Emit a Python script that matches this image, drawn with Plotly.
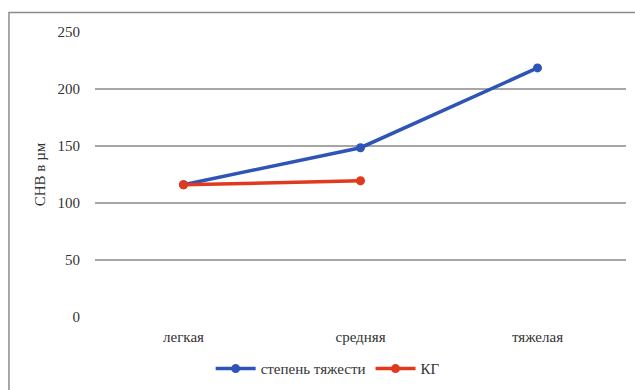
import plotly.graph_objects as go

categories = ["легкая", "средняя", "тяжелая"]
severity = [116, 148.5, 218.5]
control = [116, 119.5, None]
series_names = ["степень тяжести", "КГ"]
y_ticks = [0, 50, 100, 150, 200, 250]

fig = go.Figure()
fig.add_trace(go.Scatter(x=categories, y=severity, name=series_names[0], mode="lines+markers",
                         line=dict(color="#2e54b8", width=3.5), marker=dict(size=9, color="#2e54b8")))
fig.add_trace(go.Scatter(x=categories[:2], y=control[:2], name=series_names[1], mode="lines+markers",
                         line=dict(color="#e0391e", width=3.5), marker=dict(size=9, color="#e0391e")))

serif = "Liberation Serif, Times New Roman, serif"
fig.update_layout(
    width=635, height=390,
    margin=dict(l=95, r=9, t=32, b=73, autoexpand=False),
    paper_bgcolor="white", plot_bgcolor="white",
    font=dict(family=serif, size=15, color="#333333"),
    showlegend=True,
    legend=dict(orientation="h", xref="container", yref="container", x=0.516, y=0.012,
                xanchor="center", yanchor="bottom", font=dict(family=serif, size=15, color="#333333"),
                itemwidth=40, tracegroupgap=0),
    xaxis=dict(type="category", showgrid=False, zeroline=False, showline=False, automargin=False,
               ticks="", ticklabelstandoff=9, range=[-0.5, 2.5],
               tickfont=dict(family=serif, size=15, color="#333333")),
    yaxis=dict(range=[0, 250], tickvals=y_ticks, showgrid=True, gridcolor="#a6a6a6", gridwidth=2,
               zeroline=False, showline=False, ticks="", ticklabelstandoff=14, automargin=False,
               tickfont=dict(family=serif, size=15, color="#333333"),
               title=dict(text="СНВ в µм", standoff=8,
                          font=dict(family=serif, size=15, color="#333333"))),
    shapes=[dict(type="rect", xref="paper", yref="paper", x0=-0.162, x1=1.2, y0=-0.5, y1=1.068,
                 line=dict(color="#8c8c8c", width=1.5), layer="below")],
)

fig.write_html("out.html")
